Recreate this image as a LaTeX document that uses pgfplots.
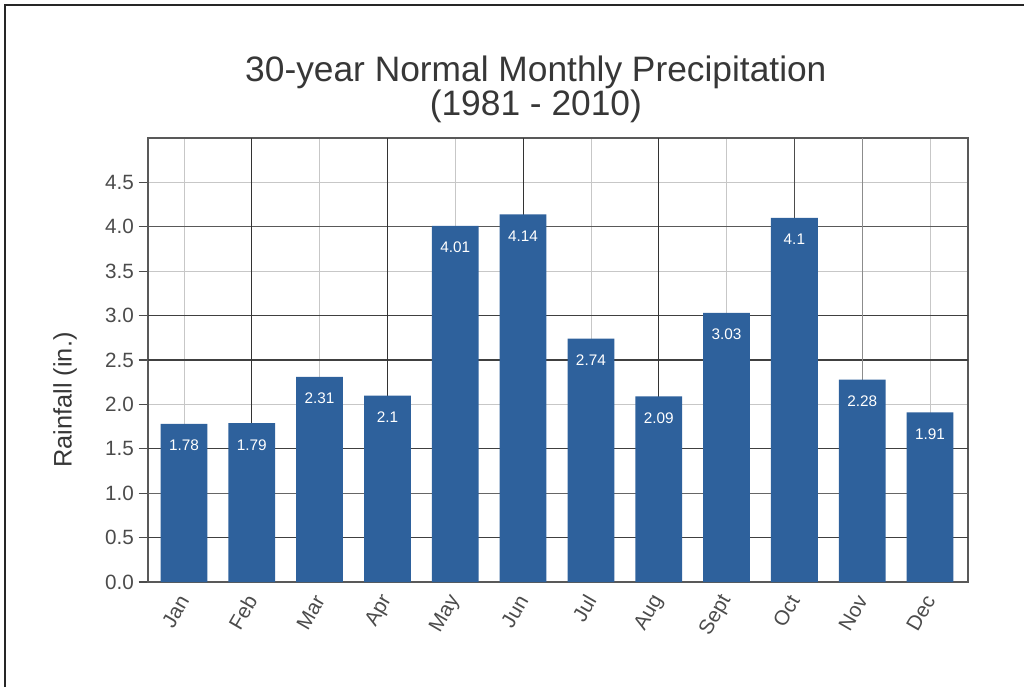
\documentclass[border=0pt]{standalone}
\usepackage{fontspec}
\setmainfont{Liberation Sans}
\usepackage{pgfplots}
\pgfplotsset{compat=1.18}
\definecolor{barblue}{RGB}{46,97,156}
\definecolor{txtgray}{RGB}{75,75,75}
\definecolor{titlegray}{RGB}{55,55,55}
\begin{document}
\begin{tikzpicture}
\path[use as bounding box] (0pt,0pt) rectangle (768pt,515.25pt);
\draw[line width=2.2pt, black!85] (3.75pt,0pt) -- (3.75pt,511.5pt) -- (768pt,511.5pt);
\begin{axis}[
  at={(111pt,78.75pt)}, anchor=south west,
  scale only axis, width=615pt, height=333pt,
  /pgf/number format/assume math mode=true,
  ybar, bar width=0.69,
  xmin=-0.53, xmax=11.56,
  ymin=0, ymax=5,
  xtick={0,...,11},
  xticklabels={Jan,Feb,Mar,Apr,May,Jun,Jul,Aug,Sept,Oct,Nov,Dec},
  ytick={0,0.5,1,1.5,2,2.5,3,3.5,4,4.5},
  yticklabel style={/pgf/number format/.cd,fixed,fixed zerofill,precision=1},
  tick label style={font=\fontsize{15.5}{18}\selectfont, text=txtgray},
  xticklabel style={rotate=60, anchor=east, yshift=-2pt},
  ymajorgrids, xmajorgrids,
  grid style={black!22, line width=0.6pt},
  axis line style={black!65, line width=0.8pt},
  tick align=outside, ytick pos=left,
  major y tick style={black!70, line width=0.8pt},
  major tick length=7pt,
  major x tick style={draw=none},
  title={30-year Normal Monthly Precipitation\\(1981 - 2010)},
  title style={at={(axis description cs:0.473,1)}, anchor=south, align=center,
    inner sep=0pt, yshift=5pt, text=titlegray,
    font=\fontsize{26.5}{24}\selectfont},
  ylabel={Rainfall (in.)},
  ylabel style={at={(axis description cs:-0.101,0.41)}, anchor=center,
    font=\fontsize{19}{22}\selectfont, text=titlegray},
  nodes near coords,
  every node near coord/.append style={anchor=north, inner sep=0pt,
    yshift=-12pt, text=white, font=\fontsize{11.5}{13}\selectfont},
]
% darker grid lines seen in the reference
\draw[black!75, line width=0.8pt] (axis cs:-1,0.5) -- (axis cs:12,0.5);
\draw[black!75, line width=0.8pt] (axis cs:-1,1.5) -- (axis cs:12,1.5);
\draw[black!60, line width=0.8pt] (axis cs:-1,1) -- (axis cs:12,1);
\draw[black!75, line width=0.8pt] (axis cs:-1,2.5) -- (axis cs:12,2.5);
\draw[black!75, line width=0.8pt] (axis cs:-1,3) -- (axis cs:12,3);
\draw[black!65, line width=0.8pt] (axis cs:-1,4) -- (axis cs:12,4);
\draw[black!80, line width=0.8pt] (axis cs:1,0) -- (axis cs:1,5);
\draw[black!80, line width=0.8pt] (axis cs:3,0) -- (axis cs:3,5);
\draw[black!80, line width=0.8pt] (axis cs:5,0) -- (axis cs:5,5);
\draw[black!80, line width=0.8pt] (axis cs:7,0) -- (axis cs:7,5);
\draw[black!70, line width=0.8pt] (axis cs:9,0) -- (axis cs:9,5);
\draw[black!45, line width=0.8pt] (axis cs:10,0) -- (axis cs:10,5);
\addplot[fill=barblue, draw=none] coordinates {
  (0,1.78) (1,1.79) (2,2.31) (3,2.1) (4,4.01) (5,4.14)
  (6,2.74) (7,2.09) (8,3.03) (9,4.1) (10,2.28) (11,1.91)};
\end{axis}
\end{tikzpicture}
\end{document}
